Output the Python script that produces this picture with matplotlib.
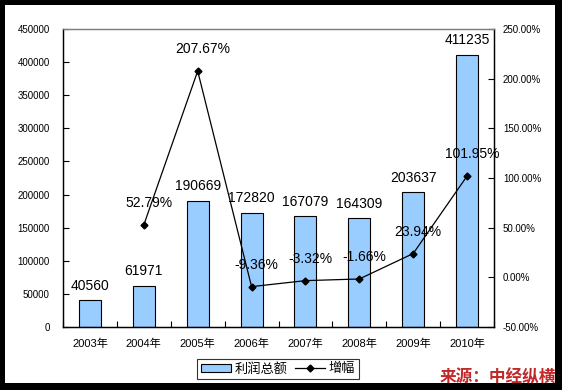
import matplotlib.pyplot as plt
from matplotlib.patches import Rectangle, Patch
from matplotlib.lines import Line2D
from matplotlib.ticker import FuncFormatter, MultipleLocator

plt.rcParams['font.family'] = ['Liberation Sans', 'Noto Sans CJK SC', 'DejaVu Sans']

years = ['2003年', '2004年', '2005年', '2006年', '2007年', '2008年', '2009年', '2010年']
profit = [40560, 61971, 190669, 172820, 167079, 164309, 203637, 411235]
growth_years = [1, 2, 3, 4, 5, 6, 7]
growth = [52.79, 207.67, -9.36, -3.32, -1.66, 23.94, 101.95]

fig = plt.figure(figsize=(5.62, 3.90), dpi=100)
ax = fig.add_axes([63 / 562, 1 - 327 / 390, (494 - 63) / 562, (327 - 29) / 390])
ax2 = ax.twinx()

x = list(range(len(years)))
ax.bar(x, profit, width=0.41, color='#99CCFF', edgecolor='black', linewidth=0.8, zorder=2)
for xi, v in zip(x, profit):
    ax.annotate(str(v), (xi, v), xytext=(0, 5.5), textcoords='offset points',
                ha='center', va='bottom', fontsize=10)

ax.set_xlim(-0.5, 7.5)
ax.set_ylim(0, 450000)
ax.yaxis.set_major_locator(MultipleLocator(50000))
ax.set_xticks(x)
ax.set_xticklabels(years, fontsize=8)
ax.set_xticks([i + 0.5 for i in range(-1, 8)], minor=True)
ax.tick_params(axis='x', which='major', length=0, pad=8.5)
ax.tick_params(axis='x', which='minor', direction='in', length=4, width=0.8)
ax.tick_params(axis='y', direction='in', length=4, width=0.8, labelsize=7, pad=9.5)

ax2.plot(growth_years, growth, color='black', linewidth=0.9, marker='D', markersize=3.5, zorder=3)
for xi, v in zip(growth_years, growth):
    ax2.annotate('%.2f%%' % v, (xi, v), xytext=(3.5, 10.5), textcoords='offset points',
                 ha='center', va='bottom', fontsize=10)
ax2.set_ylim(-50, 250)
ax2.yaxis.set_major_locator(MultipleLocator(50))
ax2.yaxis.set_major_formatter(FuncFormatter(lambda v, p: '%.2f%%' % v))
ax2.tick_params(axis='y', direction='in', length=4, width=0.8, labelsize=7, pad=6.5)

for a in (ax, ax2):
    a.spines['top'].set_color('#808080')
    for s in ('left', 'right', 'bottom', 'top'):
        a.spines[s].set_linewidth(0.9)

handles = [Patch(facecolor='#99CCFF', edgecolor='black', linewidth=0.8),
           Line2D([], [], color='black', linewidth=0.9, marker='D', markersize=3.5)]
leg = fig.legend(handles, ['利润总额', '增幅'], loc='center', bbox_to_anchor=(278 / 562, 1 - 369 / 390),
                 ncol=2, fontsize=9.5, frameon=True, fancybox=False, edgecolor='black',
                 handlelength=2.3, handleheight=0.6, handletextpad=0.3, columnspacing=0.5,
                 borderpad=0.3)
leg.get_frame().set_linewidth(0.8)

# black frame round the picture
W, H = 562, 390
for (x0, y0, w, h) in [(0, 0, 5, H), (0, H - 5, W, 5), (W - 7, 0, 7, H), (0, 0, W, 7)]:
    fig.patches.append(Rectangle((x0 / W, y0 / H), w / W, h / H, transform=fig.transFigure,
                                 facecolor='black', edgecolor='none', zorder=0))

fig.text(556 / W, 1 - 377 / H, '来源：中经纵横', ha='right', va='center', fontsize=12,
         fontweight='bold', color='#C0282A', family=['Noto Sans CJK SC'], zorder=5)

fig.savefig('out.png', dpi=100)
